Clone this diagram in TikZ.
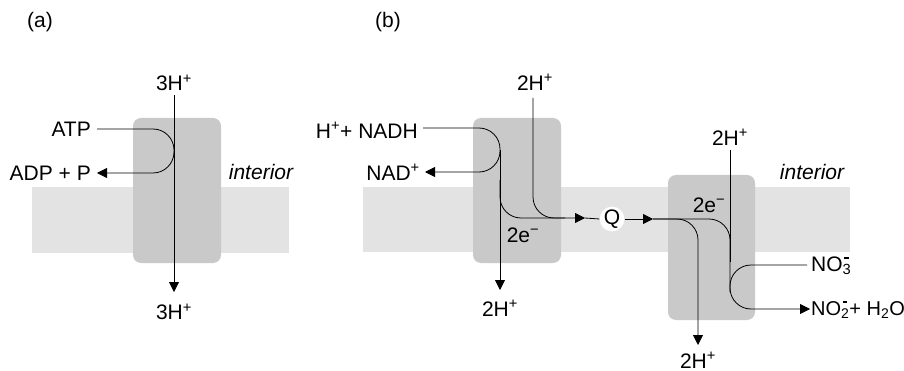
\documentclass[tikz,border=0pt]{standalone}
\usepackage{fontspec}
\setmainfont{Liberation Sans}
\usetikzlibrary{arrows.meta}
\definecolor{bandgray}{HTML}{E3E3E3}
\definecolor{protgray}{HTML}{C9C9C9}
\newcommand{\ionsub}[1]{\rlap{\hspace{1.5pt}\raisebox{12.5pt}{\rule{4.5pt}{1.8pt}}}\textsubscript{#1}}
\begin{document}
\begin{tikzpicture}[x=1pt,y=-1pt,
  lbl/.style={font=\fontsize{21}{25}\selectfont, inner sep=1pt},
  band/.style={fill=bandgray, draw=none},
  prot/.style={fill=protgray, draw=none, rounded corners=8pt},
  flow/.style={draw=black, line width=0.8pt, rounded corners=21pt},
  plain/.style={draw=black, line width=0.8pt},
  tip/.style={-{Triangle[length=10pt,width=10pt]}}]
\useasboundingbox (0,0) rectangle (904,371);

% ---------- panel (a) ----------
\node[lbl] (lab) at (40,22) {(a)};
\fill[band] (32,187) rectangle (289,253);
\fill[prot] (133,118) rectangle (221,263);
\node[lbl] (ah1) at (174,83) {3H\textsuperscript{+}};
\node[lbl] (ah2) at (174,312) {3H\textsuperscript{+}};
\node[lbl, anchor=east] (atp) at (92,129) {ATP};
\node[lbl, anchor=east] (adp) at (92,173) {ADP + P};
\node[lbl, font=\fontsize{21}{25}\selectfont\itshape] (aint) at (261,172) {interior};
\coordinate (aA) at (174,95);
\coordinate (aB) at (174,292);
\coordinate (atpS) at (97,129);
\coordinate (adpE) at (97,173);
\draw[plain, tip] (aA) -- (aB);
\draw[flow, tip] (atpS) -- (174,129) -- (174,173) -- (adpE);

% ---------- panel (b) ----------
\node[lbl] (lbb) at (388,22) {(b)};
\fill[band] (363,187) rectangle (850,252);
\fill[prot] (473,118) rectangle (561,263);
\fill[prot] (668,175) rectangle (755,320);
\node[lbl, anchor=east] (nadh) at (419,130) {H\textsuperscript{+}+ NADH};
\node[lbl, anchor=east] (nad) at (421,172) {NAD\textsuperscript{+}};
\node[lbl] (bh1) at (535,82) {2H\textsuperscript{+}};
\node[lbl] (bh2) at (500,308) {2H\textsuperscript{+}};
\node[lbl] (be1) at (523,235) {2e\textsuperscript{−}};
\node[lbl, circle, fill=white, minimum size=20pt, inner sep=0pt] (q) at (612,219) {Q};
\node[lbl] (ch1) at (730,137) {2H\textsuperscript{+}};
\node[lbl] (ch2) at (698,360) {2H\textsuperscript{+}};
\node[lbl] (ce1) at (709,205) {2e\textsuperscript{−}};
\node[lbl, font=\fontsize{21}{25}\selectfont\itshape] (bint) at (812,172) {interior};
\node[lbl, anchor=west, inner sep=0pt] (no3) at (811,266) {NO\ionsub{3}};
\node[lbl, anchor=west, inner sep=0pt, font=\fontsize{20}{24}\selectfont] (no2) at (811,310) {NO\ionsub{2}+ H\textsubscript{2}O};

\coordinate (nS) at (423,128);
\coordinate (nE) at (425,172);
\coordinate (v1a) at (500,150);
\coordinate (v1b) at (500,290);
\coordinate (hA) at (533,98);
\coordinate (qin) at (585,218);
\coordinate (qout) at (653,219);
\coordinate (d2) at (698,345);
\coordinate (c2a) at (730,150);
\coordinate (no2E) at (810,309);
\coordinate (no3S) at (807,265);

\draw[flow, tip] (nS) -- (500,128) -- (500,172) -- (nE);
\draw[plain, tip] (v1a) -- (v1b);
\draw[flow, tip] (500,180) -- (500,218) -- (qin);
\draw[flow] (hA) -- (533,218) -- (565,218);
\draw[plain] (qin) -- (q.west);
\draw[plain, tip] (q.east) -- (qout);
\draw[flow, tip] (qout) -- (698,219) -- (d2);
\draw[flow] (qout) -- (730,219) -- (730,250);
\draw[plain] (c2a) -- (730,262);
\draw[flow, tip] (730,250) -- (730,309) -- (no2E);
\draw[flow] (no3S) -- (730,265) -- (730,292);
\end{tikzpicture}
\end{document}
